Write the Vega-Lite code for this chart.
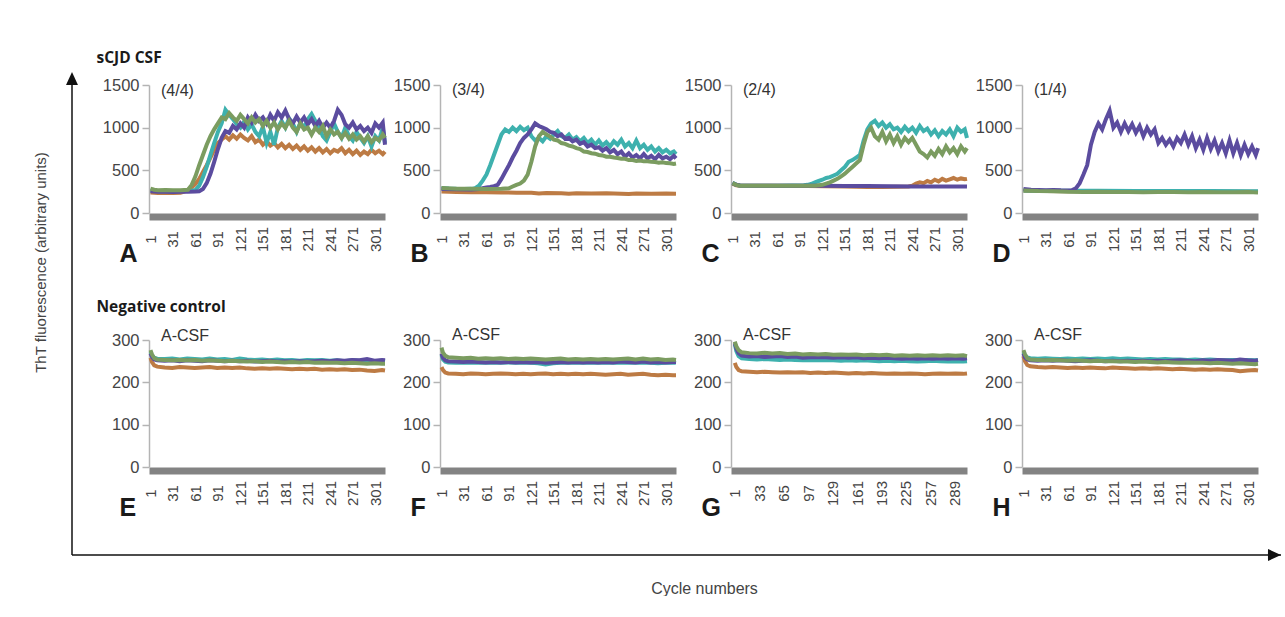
{
"$schema": "https://vega.github.io/schema/vega-lite/v6.json",
"padding": {"left": 33, "top": 50, "right": 0, "bottom": 0},
"background": "white",
"config": {
 "view": {"stroke": null},
 "font": "Liberation Sans",
 "line": {"strokeWidth": 4},
 "title": {"anchor": "start", "frame": "group", "offset": -13, "dx": 12, "fontSize": 16, "fontWeight": "normal", "color": "#333333", "font": "Liberation Sans"},
 "axis": {"grid": false, "labelFlush": false, "labelOverlap": false, "labelFont": "Liberation Sans", "labelColor": "#444444"},
 "axisX": {"domainColor": "#838383", "domainWidth": 7, "offset": 3.5, "ticks": false, "tickSize": 0, "labelAngle": 270, "labelAlign": "center", "labelBaseline": "middle", "labelPadding": 22.5, "labelFontSize": 15, "titleX": -30, "titleY": 44.5, "titleAlign": "left", "titleBaseline": "alphabetic", "titleFontSize": 25, "titleFontWeight": "bold", "titleColor": "#1a1a1a", "titleFont": "Liberation Sans"},
 "axisY": {"domainColor": "#b4b4b4", "domainWidth": 1.5, "tickColor": "#b4b4b4", "tickWidth": 1.5, "tickSize": 7, "labelPadding": 3, "labelFontSize": 16.5, "titleAlign": "left", "titleBaseline": "alphabetic", "titleX": -53, "titleFontSize": 15.5, "titleFontWeight": "bold", "titleColor": "#1a1a1a", "titleFont": "Open Sans"}
},
"datasets": {
 "yline": [{"x":-0.075,"x2":0.075,"y":0,"y2":1.0144}],
 "yhead": [{"x":0,"y":1.0144}],
 "xline": [{"x":0,"x2":1,"y":0}],
 "xvert": [{"x":-0.00062,"x2":0.00062,"y":0,"y2":1}],
 "xhead": [{"x":0.9946,"y":0}],
 "Ao": [{"x":1,"y":240},{"x":11,"y":235},{"x":21,"y":237},{"x":31,"y":234},{"x":41,"y":238},{"x":46,"y":250},{"x":51,"y":270},{"x":56,"y":300},{"x":61,"y":340},{"x":66,"y":400},{"x":71,"y":480},{"x":76,"y":560},{"x":81,"y":650},{"x":86,"y":740},{"x":91,"y":820},{"x":96,"y":860},{"x":101,"y":900},{"x":106,"y":860},{"x":111,"y":910},{"x":116,"y":870},{"x":121,"y":920},{"x":126,"y":880},{"x":131,"y":850},{"x":136,"y":900},{"x":141,"y":830},{"x":146,"y":860},{"x":151,"y":800},{"x":156,"y":840},{"x":161,"y":790},{"x":166,"y":820},{"x":171,"y":770},{"x":176,"y":810},{"x":181,"y":760},{"x":186,"y":800},{"x":191,"y":750},{"x":196,"y":790},{"x":201,"y":740},{"x":206,"y":780},{"x":211,"y":730},{"x":216,"y":770},{"x":221,"y":720},{"x":226,"y":760},{"x":231,"y":710},{"x":236,"y":750},{"x":241,"y":700},{"x":246,"y":740},{"x":251,"y":720},{"x":256,"y":760},{"x":261,"y":700},{"x":266,"y":740},{"x":271,"y":690},{"x":276,"y":730},{"x":281,"y":680},{"x":286,"y":720},{"x":291,"y":690},{"x":296,"y":740},{"x":301,"y":700},{"x":306,"y":730},{"x":311,"y":690},{"x":314,"y":720}],
 "Ac": [{"x":1,"y":265},{"x":11,"y":256},{"x":21,"y":258},{"x":31,"y":254},{"x":41,"y":257},{"x":51,"y":258},{"x":56,"y":260},{"x":61,"y":270},{"x":66,"y":320},{"x":71,"y":420},{"x":76,"y":540},{"x":81,"y":680},{"x":86,"y":820},{"x":91,"y":950},{"x":96,"y":1050},{"x":101,"y":1210},{"x":106,"y":1150},{"x":111,"y":1100},{"x":116,"y":1040},{"x":121,"y":1000},{"x":126,"y":1070},{"x":131,"y":980},{"x":136,"y":1040},{"x":141,"y":950},{"x":146,"y":900},{"x":151,"y":1010},{"x":156,"y":820},{"x":161,"y":950},{"x":166,"y":800},{"x":171,"y":1000},{"x":176,"y":1080},{"x":181,"y":1000},{"x":186,"y":1110},{"x":191,"y":1050},{"x":196,"y":950},{"x":201,"y":1060},{"x":206,"y":1000},{"x":211,"y":1100},{"x":216,"y":1160},{"x":221,"y":1080},{"x":226,"y":1000},{"x":231,"y":900},{"x":236,"y":850},{"x":241,"y":950},{"x":246,"y":1050},{"x":251,"y":950},{"x":256,"y":880},{"x":261,"y":1000},{"x":266,"y":900},{"x":271,"y":850},{"x":276,"y":950},{"x":281,"y":880},{"x":286,"y":820},{"x":291,"y":900},{"x":296,"y":780},{"x":301,"y":900},{"x":306,"y":850},{"x":311,"y":1000},{"x":314,"y":820}],
 "Ap": [{"x":1,"y":255},{"x":11,"y":248},{"x":21,"y":250},{"x":31,"y":247},{"x":41,"y":250},{"x":51,"y":248},{"x":61,"y":252},{"x":66,"y":255},{"x":71,"y":280},{"x":76,"y":350},{"x":81,"y":460},{"x":86,"y":600},{"x":91,"y":750},{"x":96,"y":880},{"x":101,"y":960},{"x":106,"y":940},{"x":111,"y":1020},{"x":116,"y":980},{"x":121,"y":1050},{"x":126,"y":1000},{"x":131,"y":1120},{"x":136,"y":1060},{"x":141,"y":1150},{"x":146,"y":1080},{"x":151,"y":1120},{"x":156,"y":1050},{"x":161,"y":1150},{"x":166,"y":1080},{"x":171,"y":1180},{"x":176,"y":1120},{"x":181,"y":1200},{"x":186,"y":1100},{"x":191,"y":1050},{"x":196,"y":1130},{"x":201,"y":1060},{"x":206,"y":1120},{"x":211,"y":1040},{"x":216,"y":1100},{"x":221,"y":1020},{"x":226,"y":1080},{"x":231,"y":1000},{"x":236,"y":1060},{"x":241,"y":1000},{"x":246,"y":1080},{"x":251,"y":1210},{"x":256,"y":1150},{"x":261,"y":1040},{"x":266,"y":1000},{"x":271,"y":1060},{"x":276,"y":980},{"x":281,"y":1020},{"x":286,"y":960},{"x":291,"y":1000},{"x":296,"y":940},{"x":301,"y":1050},{"x":306,"y":1000},{"x":311,"y":1060},{"x":314,"y":800}],
 "Ag": [{"x":1,"y":285},{"x":6,"y":272},{"x":11,"y":268},{"x":21,"y":270},{"x":31,"y":266},{"x":41,"y":268},{"x":51,"y":272},{"x":56,"y":330},{"x":61,"y":430},{"x":66,"y":560},{"x":71,"y":680},{"x":76,"y":800},{"x":81,"y":900},{"x":86,"y":980},{"x":91,"y":1050},{"x":96,"y":1120},{"x":101,"y":1100},{"x":106,"y":1170},{"x":111,"y":1120},{"x":116,"y":1080},{"x":121,"y":1150},{"x":126,"y":1100},{"x":131,"y":1050},{"x":136,"y":1120},{"x":141,"y":1060},{"x":146,"y":1100},{"x":151,"y":1020},{"x":156,"y":1080},{"x":161,"y":1000},{"x":166,"y":1060},{"x":171,"y":980},{"x":176,"y":1050},{"x":181,"y":1000},{"x":186,"y":1080},{"x":191,"y":1000},{"x":196,"y":950},{"x":201,"y":1050},{"x":206,"y":980},{"x":211,"y":1000},{"x":216,"y":920},{"x":221,"y":1000},{"x":226,"y":950},{"x":231,"y":1020},{"x":236,"y":900},{"x":241,"y":980},{"x":246,"y":920},{"x":251,"y":950},{"x":256,"y":880},{"x":261,"y":940},{"x":266,"y":870},{"x":271,"y":920},{"x":276,"y":860},{"x":281,"y":900},{"x":286,"y":840},{"x":291,"y":900},{"x":296,"y":830},{"x":301,"y":880},{"x":306,"y":850},{"x":311,"y":920},{"x":314,"y":880}],
 "Bo": [{"x":1,"y":252},{"x":21,"y":246},{"x":41,"y":244},{"x":61,"y":242},{"x":81,"y":240},{"x":101,"y":238},{"x":121,"y":236},{"x":131,"y":228},{"x":141,"y":234},{"x":161,"y":230},{"x":171,"y":226},{"x":181,"y":232},{"x":201,"y":228},{"x":221,"y":230},{"x":241,"y":227},{"x":251,"y":222},{"x":261,"y":229},{"x":281,"y":226},{"x":301,"y":228},{"x":314,"y":225}],
 "Bc": [{"x":1,"y":292},{"x":11,"y":286},{"x":21,"y":283},{"x":31,"y":282},{"x":41,"y":283},{"x":46,"y":290},{"x":51,"y":320},{"x":56,"y":380},{"x":61,"y":450},{"x":66,"y":560},{"x":71,"y":680},{"x":76,"y":800},{"x":81,"y":920},{"x":86,"y":980},{"x":91,"y":950},{"x":96,"y":1000},{"x":101,"y":960},{"x":106,"y":1010},{"x":111,"y":970},{"x":116,"y":1000},{"x":121,"y":900},{"x":126,"y":850},{"x":131,"y":880},{"x":136,"y":840},{"x":141,"y":900},{"x":146,"y":870},{"x":151,"y":920},{"x":156,"y":960},{"x":161,"y":900},{"x":166,"y":880},{"x":171,"y":920},{"x":176,"y":860},{"x":181,"y":890},{"x":186,"y":840},{"x":191,"y":880},{"x":196,"y":820},{"x":201,"y":860},{"x":206,"y":800},{"x":211,"y":850},{"x":216,"y":790},{"x":221,"y":830},{"x":226,"y":780},{"x":231,"y":840},{"x":236,"y":800},{"x":241,"y":860},{"x":246,"y":780},{"x":251,"y":820},{"x":256,"y":760},{"x":261,"y":850},{"x":266,"y":760},{"x":271,"y":800},{"x":276,"y":740},{"x":281,"y":780},{"x":286,"y":720},{"x":291,"y":760},{"x":296,"y":710},{"x":301,"y":740},{"x":306,"y":700},{"x":311,"y":720},{"x":314,"y":690}],
 "Bp": [{"x":1,"y":282},{"x":21,"y":278},{"x":41,"y":276},{"x":51,"y":280},{"x":56,"y":290},{"x":61,"y":300},{"x":66,"y":305},{"x":71,"y":315},{"x":76,"y":330},{"x":81,"y":400},{"x":86,"y":480},{"x":91,"y":560},{"x":96,"y":650},{"x":101,"y":730},{"x":106,"y":820},{"x":111,"y":880},{"x":116,"y":920},{"x":121,"y":980},{"x":126,"y":1050},{"x":131,"y":1020},{"x":136,"y":1000},{"x":141,"y":980},{"x":146,"y":950},{"x":151,"y":940},{"x":156,"y":900},{"x":161,"y":920},{"x":166,"y":870},{"x":171,"y":880},{"x":176,"y":840},{"x":181,"y":860},{"x":186,"y":810},{"x":191,"y":830},{"x":196,"y":780},{"x":201,"y":800},{"x":206,"y":760},{"x":211,"y":770},{"x":216,"y":730},{"x":221,"y":760},{"x":226,"y":710},{"x":231,"y":740},{"x":236,"y":690},{"x":241,"y":720},{"x":246,"y":660},{"x":251,"y":700},{"x":256,"y":650},{"x":261,"y":680},{"x":266,"y":640},{"x":271,"y":690},{"x":276,"y":640},{"x":281,"y":670},{"x":286,"y":630},{"x":291,"y":680},{"x":296,"y":640},{"x":301,"y":660},{"x":306,"y":630},{"x":311,"y":670},{"x":314,"y":640}],
 "Bg": [{"x":1,"y":292},{"x":21,"y":285},{"x":41,"y":283},{"x":61,"y":282},{"x":81,"y":285},{"x":91,"y":290},{"x":96,"y":310},{"x":101,"y":330},{"x":106,"y":345},{"x":111,"y":380},{"x":116,"y":450},{"x":121,"y":600},{"x":126,"y":780},{"x":131,"y":900},{"x":136,"y":950},{"x":141,"y":920},{"x":146,"y":895},{"x":151,"y":860},{"x":156,"y":850},{"x":161,"y":820},{"x":166,"y":810},{"x":171,"y":790},{"x":176,"y":780},{"x":181,"y":760},{"x":186,"y":750},{"x":191,"y":720},{"x":196,"y":715},{"x":201,"y":700},{"x":206,"y":695},{"x":211,"y":680},{"x":216,"y":675},{"x":221,"y":660},{"x":226,"y":660},{"x":231,"y":650},{"x":236,"y":645},{"x":241,"y":635},{"x":246,"y":635},{"x":251,"y":620},{"x":256,"y":620},{"x":261,"y":610},{"x":266,"y":615},{"x":271,"y":605},{"x":276,"y":605},{"x":281,"y":600},{"x":286,"y":598},{"x":291,"y":590},{"x":296,"y":595},{"x":301,"y":585},{"x":306,"y":582},{"x":311,"y":575},{"x":314,"y":580}],
 "Co": [{"x":1,"y":345},{"x":6,"y":325},{"x":11,"y":320},{"x":51,"y":318},{"x":101,"y":316},{"x":151,"y":312},{"x":181,"y":305},{"x":201,"y":305},{"x":221,"y":308},{"x":236,"y":310},{"x":241,"y":320},{"x":246,"y":345},{"x":251,"y":360},{"x":256,"y":350},{"x":261,"y":375},{"x":266,"y":360},{"x":271,"y":390},{"x":276,"y":370},{"x":281,"y":400},{"x":286,"y":380},{"x":291,"y":395},{"x":296,"y":410},{"x":301,"y":390},{"x":306,"y":405},{"x":311,"y":395},{"x":314,"y":400}],
 "Cc": [{"x":1,"y":355},{"x":6,"y":330},{"x":11,"y":322},{"x":31,"y":320},{"x":61,"y":320},{"x":81,"y":322},{"x":96,"y":325},{"x":101,"y":330},{"x":106,"y":340},{"x":111,"y":360},{"x":116,"y":375},{"x":121,"y":390},{"x":126,"y":410},{"x":131,"y":420},{"x":136,"y":440},{"x":141,"y":460},{"x":146,"y":500},{"x":151,"y":540},{"x":156,"y":600},{"x":161,"y":620},{"x":166,"y":650},{"x":171,"y":680},{"x":176,"y":850},{"x":181,"y":980},{"x":186,"y":1050},{"x":191,"y":1080},{"x":196,"y":1020},{"x":201,"y":1060},{"x":206,"y":1000},{"x":211,"y":1040},{"x":216,"y":980},{"x":221,"y":1000},{"x":226,"y":950},{"x":231,"y":1010},{"x":236,"y":960},{"x":241,"y":1000},{"x":246,"y":940},{"x":251,"y":1020},{"x":256,"y":960},{"x":261,"y":990},{"x":266,"y":920},{"x":271,"y":970},{"x":276,"y":900},{"x":281,"y":960},{"x":286,"y":920},{"x":291,"y":980},{"x":296,"y":900},{"x":301,"y":1000},{"x":306,"y":950},{"x":311,"y":980},{"x":314,"y":880}],
 "Cp": [{"x":1,"y":350},{"x":6,"y":330},{"x":11,"y":322},{"x":31,"y":320},{"x":61,"y":320},{"x":91,"y":318},{"x":121,"y":318},{"x":151,"y":316},{"x":181,"y":315},{"x":211,"y":314},{"x":241,"y":312},{"x":271,"y":312},{"x":301,"y":312},{"x":314,"y":310}],
 "Cg": [{"x":1,"y":350},{"x":6,"y":330},{"x":11,"y":320},{"x":31,"y":318},{"x":61,"y":318},{"x":91,"y":318},{"x":111,"y":320},{"x":121,"y":330},{"x":126,"y":345},{"x":131,"y":360},{"x":136,"y":380},{"x":141,"y":400},{"x":146,"y":430},{"x":151,"y":460},{"x":156,"y":500},{"x":161,"y":540},{"x":166,"y":580},{"x":171,"y":620},{"x":176,"y":800},{"x":181,"y":950},{"x":186,"y":1000},{"x":191,"y":900},{"x":196,"y":860},{"x":201,"y":950},{"x":206,"y":840},{"x":211,"y":920},{"x":216,"y":820},{"x":221,"y":900},{"x":226,"y":800},{"x":231,"y":880},{"x":236,"y":830},{"x":241,"y":880},{"x":246,"y":800},{"x":251,"y":720},{"x":256,"y":690},{"x":261,"y":650},{"x":266,"y":720},{"x":271,"y":670},{"x":276,"y":750},{"x":281,"y":690},{"x":286,"y":780},{"x":291,"y":710},{"x":296,"y":760},{"x":301,"y":690},{"x":306,"y":780},{"x":311,"y":720},{"x":314,"y":760}],
 "Do": [{"x":1,"y":260},{"x":61,"y":255},{"x":121,"y":254},{"x":181,"y":252},{"x":241,"y":252},{"x":314,"y":250}],
 "Dc": [{"x":1,"y":265},{"x":21,"y":262},{"x":61,"y":260},{"x":101,"y":260},{"x":151,"y":258},{"x":201,"y":258},{"x":251,"y":257},{"x":301,"y":256},{"x":314,"y":256}],
 "Dp": [{"x":1,"y":280},{"x":11,"y":272},{"x":21,"y":270},{"x":31,"y":268},{"x":41,"y":270},{"x":51,"y":266},{"x":61,"y":265},{"x":66,"y":268},{"x":71,"y":290},{"x":76,"y":350},{"x":81,"y":450},{"x":86,"y":560},{"x":91,"y":800},{"x":96,"y":950},{"x":101,"y":1050},{"x":106,"y":980},{"x":111,"y":1100},{"x":116,"y":1200},{"x":121,"y":1000},{"x":126,"y":1060},{"x":131,"y":950},{"x":136,"y":1050},{"x":141,"y":960},{"x":146,"y":1040},{"x":151,"y":940},{"x":156,"y":1020},{"x":161,"y":900},{"x":166,"y":1000},{"x":171,"y":920},{"x":176,"y":980},{"x":181,"y":820},{"x":186,"y":880},{"x":191,"y":800},{"x":196,"y":860},{"x":201,"y":780},{"x":206,"y":880},{"x":211,"y":820},{"x":216,"y":920},{"x":221,"y":800},{"x":226,"y":900},{"x":231,"y":760},{"x":236,"y":860},{"x":241,"y":740},{"x":246,"y":880},{"x":251,"y":750},{"x":256,"y":850},{"x":261,"y":720},{"x":266,"y":820},{"x":271,"y":700},{"x":276,"y":850},{"x":281,"y":700},{"x":286,"y":820},{"x":291,"y":680},{"x":296,"y":800},{"x":301,"y":690},{"x":306,"y":780},{"x":311,"y":680},{"x":314,"y":760}],
 "Dg": [{"x":1,"y":265},{"x":21,"y":258},{"x":41,"y":255},{"x":61,"y":248},{"x":81,"y":245},{"x":101,"y":248},{"x":121,"y":245},{"x":141,"y":247},{"x":161,"y":244},{"x":181,"y":246},{"x":201,"y":245},{"x":221,"y":244},{"x":241,"y":246},{"x":261,"y":244},{"x":281,"y":243},{"x":301,"y":245},{"x":314,"y":240}],
 "Eo": [{"x":1,"y":258},{"x":3,"y":248},{"x":6,"y":240},{"x":10,"y":237},{"x":20,"y":235},{"x":30,"y":234},{"x":40,"y":236},{"x":50,"y":235},{"x":60,"y":234},{"x":70,"y":235},{"x":80,"y":236},{"x":90,"y":234},{"x":100,"y":235},{"x":110,"y":234},{"x":120,"y":235},{"x":130,"y":233},{"x":140,"y":232},{"x":150,"y":233},{"x":160,"y":232},{"x":170,"y":233},{"x":180,"y":232},{"x":190,"y":231},{"x":200,"y":232},{"x":210,"y":231},{"x":220,"y":232},{"x":230,"y":230},{"x":240,"y":231},{"x":250,"y":230},{"x":260,"y":231},{"x":270,"y":229},{"x":280,"y":230},{"x":290,"y":228},{"x":300,"y":227},{"x":310,"y":229},{"x":314,"y":228}],
 "Ec": [{"x":1,"y":272},{"x":3,"y":264},{"x":6,"y":258},{"x":10,"y":256},{"x":20,"y":255},{"x":30,"y":256},{"x":40,"y":254},{"x":50,"y":256},{"x":60,"y":255},{"x":70,"y":254},{"x":80,"y":256},{"x":90,"y":254},{"x":100,"y":255},{"x":110,"y":253},{"x":120,"y":256},{"x":130,"y":254},{"x":140,"y":253},{"x":150,"y":254},{"x":160,"y":252},{"x":170,"y":254},{"x":180,"y":252},{"x":190,"y":253},{"x":200,"y":251},{"x":210,"y":253},{"x":220,"y":252},{"x":230,"y":253},{"x":240,"y":251},{"x":250,"y":252},{"x":260,"y":250},{"x":270,"y":252},{"x":280,"y":251},{"x":290,"y":252},{"x":300,"y":250},{"x":310,"y":251},{"x":314,"y":250}],
 "Ep": [{"x":1,"y":268},{"x":3,"y":260},{"x":6,"y":254},{"x":10,"y":252},{"x":20,"y":251},{"x":30,"y":252},{"x":40,"y":250},{"x":50,"y":252},{"x":60,"y":251},{"x":70,"y":250},{"x":80,"y":252},{"x":90,"y":251},{"x":100,"y":250},{"x":110,"y":251},{"x":120,"y":250},{"x":130,"y":251},{"x":140,"y":249},{"x":150,"y":250},{"x":160,"y":251},{"x":170,"y":249},{"x":180,"y":250},{"x":190,"y":249},{"x":200,"y":250},{"x":210,"y":249},{"x":220,"y":250},{"x":230,"y":251},{"x":240,"y":250},{"x":250,"y":252},{"x":260,"y":251},{"x":270,"y":253},{"x":280,"y":252},{"x":290,"y":255},{"x":300,"y":251},{"x":310,"y":253},{"x":314,"y":252}],
 "Eg": [{"x":1,"y":276},{"x":3,"y":266},{"x":6,"y":257},{"x":10,"y":254},{"x":20,"y":253},{"x":30,"y":252},{"x":40,"y":253},{"x":50,"y":252},{"x":60,"y":253},{"x":70,"y":251},{"x":80,"y":252},{"x":90,"y":251},{"x":100,"y":250},{"x":110,"y":251},{"x":120,"y":250},{"x":130,"y":249},{"x":140,"y":250},{"x":150,"y":248},{"x":160,"y":249},{"x":170,"y":248},{"x":180,"y":247},{"x":190,"y":248},{"x":200,"y":247},{"x":210,"y":248},{"x":220,"y":246},{"x":230,"y":247},{"x":240,"y":246},{"x":250,"y":246},{"x":260,"y":245},{"x":270,"y":246},{"x":280,"y":245},{"x":290,"y":244},{"x":300,"y":245},{"x":310,"y":244},{"x":314,"y":244}],
 "Fo": [{"x":1,"y":236},{"x":3,"y":229},{"x":6,"y":223},{"x":10,"y":221},{"x":20,"y":220},{"x":30,"y":219},{"x":40,"y":221},{"x":50,"y":220},{"x":60,"y":219},{"x":70,"y":220},{"x":80,"y":221},{"x":90,"y":220},{"x":100,"y":219},{"x":110,"y":220},{"x":120,"y":219},{"x":130,"y":220},{"x":140,"y":221},{"x":150,"y":219},{"x":160,"y":220},{"x":170,"y":219},{"x":180,"y":220},{"x":190,"y":219},{"x":200,"y":220},{"x":210,"y":219},{"x":220,"y":218},{"x":230,"y":219},{"x":240,"y":220},{"x":250,"y":218},{"x":260,"y":219},{"x":270,"y":220},{"x":280,"y":218},{"x":290,"y":217},{"x":300,"y":218},{"x":310,"y":217},{"x":314,"y":217}],
 "Fc": [{"x":1,"y":265},{"x":3,"y":254},{"x":6,"y":249},{"x":10,"y":247},{"x":20,"y":246},{"x":30,"y":247},{"x":40,"y":246},{"x":50,"y":247},{"x":60,"y":246},{"x":70,"y":247},{"x":80,"y":246},{"x":90,"y":247},{"x":100,"y":246},{"x":110,"y":247},{"x":120,"y":246},{"x":130,"y":245},{"x":140,"y":242},{"x":150,"y":245},{"x":160,"y":246},{"x":170,"y":247},{"x":180,"y":246},{"x":190,"y":247},{"x":200,"y":246},{"x":210,"y":247},{"x":220,"y":246},{"x":230,"y":247},{"x":240,"y":246},{"x":250,"y":247},{"x":260,"y":246},{"x":270,"y":247},{"x":280,"y":246},{"x":290,"y":245},{"x":300,"y":246},{"x":310,"y":247},{"x":314,"y":246}],
 "Fp": [{"x":1,"y":268},{"x":3,"y":258},{"x":6,"y":252},{"x":10,"y":250},{"x":20,"y":249},{"x":30,"y":248},{"x":40,"y":249},{"x":50,"y":248},{"x":60,"y":247},{"x":70,"y":248},{"x":80,"y":247},{"x":90,"y":248},{"x":100,"y":247},{"x":110,"y":248},{"x":120,"y":247},{"x":130,"y":248},{"x":140,"y":246},{"x":150,"y":247},{"x":160,"y":248},{"x":170,"y":247},{"x":180,"y":248},{"x":190,"y":247},{"x":200,"y":248},{"x":210,"y":247},{"x":220,"y":248},{"x":230,"y":247},{"x":240,"y":249},{"x":250,"y":248},{"x":260,"y":247},{"x":270,"y":249},{"x":280,"y":247},{"x":290,"y":248},{"x":300,"y":247},{"x":310,"y":248},{"x":314,"y":248}],
 "Fg": [{"x":1,"y":282},{"x":3,"y":270},{"x":6,"y":263},{"x":10,"y":259},{"x":20,"y":258},{"x":30,"y":257},{"x":40,"y":258},{"x":50,"y":256},{"x":60,"y":257},{"x":70,"y":256},{"x":80,"y":257},{"x":90,"y":255},{"x":100,"y":256},{"x":110,"y":255},{"x":120,"y":256},{"x":130,"y":255},{"x":140,"y":254},{"x":150,"y":255},{"x":160,"y":256},{"x":170,"y":254},{"x":180,"y":255},{"x":190,"y":254},{"x":200,"y":255},{"x":210,"y":254},{"x":220,"y":255},{"x":230,"y":254},{"x":240,"y":255},{"x":250,"y":256},{"x":260,"y":254},{"x":270,"y":256},{"x":280,"y":254},{"x":290,"y":255},{"x":300,"y":253},{"x":310,"y":254},{"x":314,"y":253}],
 "Go": [{"x":1,"y":246},{"x":3,"y":236},{"x":6,"y":229},{"x":10,"y":226},{"x":20,"y":225},{"x":30,"y":224},{"x":40,"y":225},{"x":50,"y":224},{"x":60,"y":223},{"x":70,"y":224},{"x":80,"y":223},{"x":90,"y":224},{"x":100,"y":222},{"x":110,"y":223},{"x":120,"y":222},{"x":130,"y":223},{"x":140,"y":222},{"x":150,"y":221},{"x":160,"y":222},{"x":170,"y":221},{"x":180,"y":222},{"x":190,"y":221},{"x":200,"y":220},{"x":210,"y":221},{"x":220,"y":220},{"x":230,"y":221},{"x":240,"y":220},{"x":250,"y":219},{"x":260,"y":220},{"x":270,"y":221},{"x":280,"y":220},{"x":290,"y":221},{"x":300,"y":220},{"x":305,"y":221}],
 "Gc": [{"x":1,"y":290},{"x":3,"y":274},{"x":6,"y":262},{"x":10,"y":257},{"x":20,"y":255},{"x":30,"y":254},{"x":40,"y":255},{"x":50,"y":254},{"x":60,"y":253},{"x":70,"y":254},{"x":80,"y":253},{"x":90,"y":252},{"x":100,"y":253},{"x":110,"y":252},{"x":120,"y":253},{"x":130,"y":252},{"x":140,"y":251},{"x":150,"y":252},{"x":160,"y":251},{"x":170,"y":252},{"x":180,"y":251},{"x":190,"y":250},{"x":200,"y":251},{"x":210,"y":250},{"x":220,"y":251},{"x":230,"y":250},{"x":240,"y":249},{"x":250,"y":250},{"x":260,"y":251},{"x":270,"y":250},{"x":280,"y":249},{"x":290,"y":250},{"x":300,"y":249},{"x":305,"y":250}],
 "Gp": [{"x":1,"y":293},{"x":3,"y":280},{"x":6,"y":269},{"x":10,"y":263},{"x":20,"y":261},{"x":30,"y":262},{"x":40,"y":260},{"x":50,"y":261},{"x":60,"y":262},{"x":70,"y":260},{"x":80,"y":261},{"x":90,"y":258},{"x":100,"y":259},{"x":110,"y":260},{"x":120,"y":259},{"x":130,"y":258},{"x":140,"y":259},{"x":150,"y":258},{"x":160,"y":259},{"x":170,"y":257},{"x":180,"y":258},{"x":190,"y":257},{"x":200,"y":258},{"x":210,"y":257},{"x":220,"y":256},{"x":230,"y":257},{"x":240,"y":256},{"x":250,"y":257},{"x":260,"y":256},{"x":270,"y":257},{"x":280,"y":256},{"x":290,"y":257},{"x":300,"y":256},{"x":305,"y":257}],
 "Gg": [{"x":1,"y":296},{"x":3,"y":285},{"x":6,"y":276},{"x":10,"y":271},{"x":20,"y":269},{"x":30,"y":268},{"x":40,"y":270},{"x":50,"y":268},{"x":60,"y":269},{"x":70,"y":267},{"x":80,"y":268},{"x":90,"y":266},{"x":100,"y":267},{"x":110,"y":266},{"x":120,"y":267},{"x":130,"y":265},{"x":140,"y":266},{"x":150,"y":265},{"x":160,"y":266},{"x":170,"y":264},{"x":180,"y":265},{"x":190,"y":264},{"x":200,"y":265},{"x":210,"y":263},{"x":220,"y":264},{"x":230,"y":263},{"x":240,"y":264},{"x":250,"y":263},{"x":260,"y":264},{"x":270,"y":263},{"x":280,"y":264},{"x":290,"y":263},{"x":300,"y":264},{"x":305,"y":262}],
 "Ho": [{"x":1,"y":262},{"x":3,"y":250},{"x":6,"y":241},{"x":10,"y":238},{"x":20,"y":236},{"x":30,"y":235},{"x":40,"y":236},{"x":50,"y":235},{"x":60,"y":234},{"x":70,"y":235},{"x":80,"y":234},{"x":90,"y":235},{"x":100,"y":234},{"x":110,"y":233},{"x":120,"y":235},{"x":130,"y":234},{"x":140,"y":233},{"x":150,"y":232},{"x":160,"y":233},{"x":170,"y":232},{"x":180,"y":233},{"x":190,"y":232},{"x":200,"y":231},{"x":210,"y":232},{"x":220,"y":231},{"x":230,"y":230},{"x":240,"y":231},{"x":250,"y":230},{"x":260,"y":231},{"x":270,"y":230},{"x":280,"y":229},{"x":290,"y":226},{"x":300,"y":228},{"x":310,"y":229},{"x":314,"y":228}],
 "Hc": [{"x":1,"y":272},{"x":3,"y":264},{"x":6,"y":259},{"x":10,"y":257},{"x":20,"y":256},{"x":30,"y":257},{"x":40,"y":256},{"x":50,"y":255},{"x":60,"y":256},{"x":70,"y":255},{"x":80,"y":256},{"x":90,"y":255},{"x":100,"y":256},{"x":110,"y":255},{"x":120,"y":257},{"x":130,"y":255},{"x":140,"y":256},{"x":150,"y":255},{"x":160,"y":254},{"x":170,"y":255},{"x":180,"y":254},{"x":190,"y":255},{"x":200,"y":254},{"x":210,"y":254},{"x":220,"y":253},{"x":230,"y":254},{"x":240,"y":253},{"x":250,"y":254},{"x":260,"y":253},{"x":270,"y":252},{"x":280,"y":253},{"x":290,"y":252},{"x":300,"y":253},{"x":310,"y":252},{"x":314,"y":253}],
 "Hp": [{"x":1,"y":268},{"x":3,"y":259},{"x":6,"y":254},{"x":10,"y":252},{"x":20,"y":251},{"x":30,"y":252},{"x":40,"y":251},{"x":50,"y":252},{"x":60,"y":251},{"x":70,"y":250},{"x":80,"y":251},{"x":90,"y":252},{"x":100,"y":251},{"x":110,"y":250},{"x":120,"y":251},{"x":130,"y":250},{"x":140,"y":251},{"x":150,"y":250},{"x":160,"y":251},{"x":170,"y":250},{"x":180,"y":251},{"x":190,"y":250},{"x":200,"y":251},{"x":210,"y":252},{"x":220,"y":251},{"x":230,"y":250},{"x":240,"y":252},{"x":250,"y":251},{"x":260,"y":253},{"x":270,"y":252},{"x":280,"y":251},{"x":290,"y":254},{"x":300,"y":252},{"x":310,"y":251},{"x":314,"y":252}],
 "Hg": [{"x":1,"y":276},{"x":3,"y":266},{"x":6,"y":257},{"x":10,"y":254},{"x":20,"y":253},{"x":30,"y":252},{"x":40,"y":253},{"x":50,"y":252},{"x":60,"y":251},{"x":70,"y":252},{"x":80,"y":251},{"x":90,"y":250},{"x":100,"y":251},{"x":110,"y":250},{"x":120,"y":250},{"x":130,"y":249},{"x":140,"y":249},{"x":150,"y":248},{"x":160,"y":249},{"x":170,"y":248},{"x":180,"y":247},{"x":190,"y":248},{"x":200,"y":247},{"x":210,"y":246},{"x":220,"y":247},{"x":230,"y":246},{"x":240,"y":246},{"x":250,"y":245},{"x":260,"y":246},{"x":270,"y":245},{"x":280,"y":244},{"x":290,"y":245},{"x":300,"y":244},{"x":310,"y":243},{"x":314,"y":244}]
},
"spacing": 0,
"vconcat": [
 {"spacing": 14, "hconcat": [
  {"width": 10, "height": 450,
   "encoding": {
    "x": {"field": "x", "type": "quantitative", "scale": {"domain": [0, 1], "nice": false, "zero": false}, "axis": null},
    "y": {"field": "y", "type": "quantitative", "scale": {"domain": [0, 1], "nice": false, "zero": false}, "axis": {"title": "ThT fluorescence (arbitrary units)", "domain": false, "ticks": false, "labels": false, "grid": false, "titleAngle": -90, "titleAlign": "center", "titleBaseline": "middle", "titleX": -32, "titleY": 177, "titleFontSize": 15, "titleFontWeight": "normal", "titleColor": "#444444", "titleFont": "Liberation Sans"}}
   },
   "layer": [
    {"data": {"name": "yline"}, "mark": {"type": "rect", "color": "#111111", "opacity": 1}, "encoding": {"x2": {"field": "x2"}, "y2": {"field": "y2"}}},
    {"data": {"name": "yhead"}, "mark": {"type": "point", "shape": "M0,-1L0.92,1L-0.92,1Z", "filled": true, "color": "#111111", "size": 169, "opacity": 1}}
   ]
  },
  {"columns": 4, "bounds": "flush", "spacing": {"row": 127, "column": 55}, "concat": [
   {"width": 236, "height": 128, "title": {"text": "(4/4)", "offset": -48.5},
    "encoding": {
     "x": {"field": "x", "type": "quantitative", "scale": {"domain": [-1, 314], "nice": false, "zero": false}, "axis": {"values": [1,31,61,91,121,151,181,211,241,271,301], "format": "d", "title": "A"}},
     "y": {"field": "y", "type": "quantitative", "scale": {"domain": [0, 1500], "nice": false, "zero": false}, "axis": {"values": [0,500,1000,1500], "format": "d", "title": "sCJD CSF", "titleAngle": 0, "titleY": -23}}
    },
    "layer": [
     {"data": {"name": "Ao"}, "mark": {"type": "line", "color": "#bd7b44"}},
     {"data": {"name": "Ac"}, "mark": {"type": "line", "color": "#3eb1ae"}},
     {"data": {"name": "Ap"}, "mark": {"type": "line", "color": "#5b4c9f"}},
     {"data": {"name": "Ag"}, "mark": {"type": "line", "color": "#7b9c60"}}
    ]},
   {"width": 236, "height": 128, "title": {"text": "(3/4)", "offset": -20.5},
    "encoding": {
     "x": {"field": "x", "type": "quantitative", "scale": {"domain": [-1, 314], "nice": false, "zero": false}, "axis": {"values": [1,31,61,91,121,151,181,211,241,271,301], "format": "d", "title": "B"}},
     "y": {"field": "y", "type": "quantitative", "scale": {"domain": [0, 1500], "nice": false, "zero": false}, "axis": {"values": [0,500,1000,1500], "format": "d", "title": null}}
    },
    "layer": [
     {"data": {"name": "Bo"}, "mark": {"type": "line", "color": "#bd7b44"}},
     {"data": {"name": "Bc"}, "mark": {"type": "line", "color": "#3eb1ae"}},
     {"data": {"name": "Bp"}, "mark": {"type": "line", "color": "#5b4c9f"}},
     {"data": {"name": "Bg"}, "mark": {"type": "line", "color": "#7b9c60"}}
    ]},
   {"width": 236, "height": 128, "title": {"text": "(2/4)", "offset": -20.5},
    "encoding": {
     "x": {"field": "x", "type": "quantitative", "scale": {"domain": [-1, 314], "nice": false, "zero": false}, "axis": {"values": [1,31,61,91,121,151,181,211,241,271,301], "format": "d", "title": "C"}},
     "y": {"field": "y", "type": "quantitative", "scale": {"domain": [0, 1500], "nice": false, "zero": false}, "axis": {"values": [0,500,1000,1500], "format": "d", "title": null}}
    },
    "layer": [
     {"data": {"name": "Co"}, "mark": {"type": "line", "color": "#bd7b44"}},
     {"data": {"name": "Cc"}, "mark": {"type": "line", "color": "#3eb1ae"}},
     {"data": {"name": "Cp"}, "mark": {"type": "line", "color": "#5b4c9f"}},
     {"data": {"name": "Cg"}, "mark": {"type": "line", "color": "#7b9c60"}}
    ]},
   {"width": 236, "height": 128, "title": {"text": "(1/4)", "offset": -20.5},
    "encoding": {
     "x": {"field": "x", "type": "quantitative", "scale": {"domain": [-1, 314], "nice": false, "zero": false}, "axis": {"values": [1,31,61,91,121,151,181,211,241,271,301], "format": "d", "title": "D"}},
     "y": {"field": "y", "type": "quantitative", "scale": {"domain": [0, 1500], "nice": false, "zero": false}, "axis": {"values": [0,500,1000,1500], "format": "d", "title": null}}
    },
    "layer": [
     {"data": {"name": "Do"}, "mark": {"type": "line", "color": "#bd7b44"}},
     {"data": {"name": "Dc"}, "mark": {"type": "line", "color": "#3eb1ae"}},
     {"data": {"name": "Dp"}, "mark": {"type": "line", "color": "#5b4c9f"}},
     {"data": {"name": "Dg"}, "mark": {"type": "line", "color": "#7b9c60"}}
    ]},
   {"width": 236, "height": 127, "title": {"text": "A-CSF", "offset": -45},
    "encoding": {
     "x": {"field": "x", "type": "quantitative", "scale": {"domain": [-1, 314], "nice": false, "zero": false}, "axis": {"values": [1,31,61,91,121,151,181,211,241,271,301], "format": "d", "title": "E"}},
     "y": {"field": "y", "type": "quantitative", "scale": {"domain": [0, 300], "nice": false, "zero": false}, "axis": {"values": [0,100,200,300], "format": "d", "title": "Negative control", "titleAngle": 0, "titleY": -29}}
    },
    "layer": [
     {"data": {"name": "Eo"}, "mark": {"type": "line", "color": "#bd7b44"}},
     {"data": {"name": "Ec"}, "mark": {"type": "line", "color": "#3eb1ae"}},
     {"data": {"name": "Ep"}, "mark": {"type": "line", "color": "#5b4c9f"}},
     {"data": {"name": "Eg"}, "mark": {"type": "line", "color": "#7b9c60"}}
    ]},
   {"width": 236, "height": 127, "title": {"text": "A-CSF", "offset": -11},
    "encoding": {
     "x": {"field": "x", "type": "quantitative", "scale": {"domain": [-1, 314], "nice": false, "zero": false}, "axis": {"values": [1,31,61,91,121,151,181,211,241,271,301], "format": "d", "title": "F"}},
     "y": {"field": "y", "type": "quantitative", "scale": {"domain": [0, 300], "nice": false, "zero": false}, "axis": {"values": [0,100,200,300], "format": "d", "title": null}}
    },
    "layer": [
     {"data": {"name": "Fo"}, "mark": {"type": "line", "color": "#bd7b44"}},
     {"data": {"name": "Fc"}, "mark": {"type": "line", "color": "#3eb1ae"}},
     {"data": {"name": "Fp"}, "mark": {"type": "line", "color": "#5b4c9f"}},
     {"data": {"name": "Fg"}, "mark": {"type": "line", "color": "#7b9c60"}}
    ]},
   {"width": 236, "height": 127, "title": {"text": "A-CSF", "offset": -11},
    "encoding": {
     "x": {"field": "x", "type": "quantitative", "scale": {"domain": [-4, 305], "nice": false, "zero": false}, "axis": {"values": [1,33,65,97,129,161,193,225,257,289], "format": "d", "title": "G"}},
     "y": {"field": "y", "type": "quantitative", "scale": {"domain": [0, 300], "nice": false, "zero": false}, "axis": {"values": [0,100,200,300], "format": "d", "title": null}}
    },
    "layer": [
     {"data": {"name": "Go"}, "mark": {"type": "line", "color": "#bd7b44"}},
     {"data": {"name": "Gc"}, "mark": {"type": "line", "color": "#3eb1ae"}},
     {"data": {"name": "Gp"}, "mark": {"type": "line", "color": "#5b4c9f"}},
     {"data": {"name": "Gg"}, "mark": {"type": "line", "color": "#7b9c60"}}
    ]},
   {"width": 236, "height": 127, "title": {"text": "A-CSF", "offset": -11},
    "encoding": {
     "x": {"field": "x", "type": "quantitative", "scale": {"domain": [-1, 314], "nice": false, "zero": false}, "axis": {"values": [1,31,61,91,121,151,181,211,241,271,301], "format": "d", "title": "H"}},
     "y": {"field": "y", "type": "quantitative", "scale": {"domain": [0, 300], "nice": false, "zero": false}, "axis": {"values": [0,100,200,300], "format": "d", "title": null}}
    },
    "layer": [
     {"data": {"name": "Ho"}, "mark": {"type": "line", "color": "#bd7b44"}},
     {"data": {"name": "Hc"}, "mark": {"type": "line", "color": "#3eb1ae"}},
     {"data": {"name": "Hp"}, "mark": {"type": "line", "color": "#5b4c9f"}},
     {"data": {"name": "Hg"}, "mark": {"type": "line", "color": "#7b9c60"}}
    ]}
  ]}
 ]},
 {"width": 1209, "height": 20,
  "encoding": {
   "x": {"field": "x", "type": "quantitative", "scale": {"domain": [0, 1], "nice": false, "zero": false}, "axis": {"title": "Cycle numbers", "domain": false, "ticks": false, "labels": false, "grid": false, "offset": 0, "titleX": 632, "titleY": 33, "titleAlign": "center", "titleBaseline": "middle", "titleFontSize": 16, "titleFontWeight": "normal", "titleColor": "#444444", "titleFont": "Liberation Sans"}},
   "y": {"field": "y", "type": "quantitative", "scale": {"domain": [0, 1], "nice": false, "zero": false}, "axis": null}
  },
  "layer": [
   {"data": {"name": "xline"}, "mark": {"type": "rule", "color": "#111111", "strokeWidth": 1.5}, "encoding": {"x2": {"field": "x2"}}},
   {"data": {"name": "xvert"}, "mark": {"type": "rect", "color": "#111111", "opacity": 1}, "encoding": {"x2": {"field": "x2"}, "y2": {"field": "y2"}}},
   {"data": {"name": "xhead"}, "mark": {"type": "point", "shape": "M1,0L-1,-0.92L-1,0.92Z", "filled": true, "color": "#111111", "size": 169, "opacity": 1}}
  ]
 }
]
}
